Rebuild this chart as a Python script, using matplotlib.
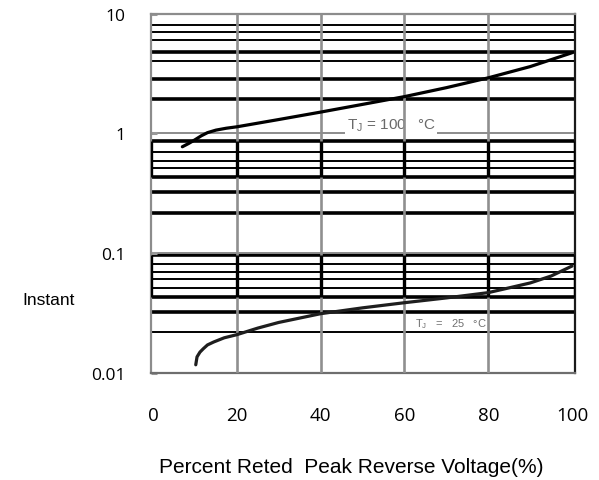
'''Reverse leakage current vs. percent rated peak reverse voltage.

Log-scale chart with two junction temperature curves (100 C and 25 C) drawn
over a hand-ruled looking grid.
'''

# ----------------------------------------------------------------------------
# Modules
from matplotlib import pyplot as plt
from matplotlib import ticker

# ----------------------------------------------------------------------------
# Data

# Tj = 100 C curve
tj100_x = [7, 8.5, 10, 11.5, 13, 15, 17.5, 20, 30, 40, 50, 60, 70, 80, 90,
           100]
tj100_y = [0.77, 0.82, 0.88, 0.95, 1.01, 1.06, 1.1, 1.13, 1.3, 1.5, 1.74,
           2.02, 2.4, 2.9, 3.6, 4.7]

# Tj = 25 C curve
tj25_x = [10.2, 10.5, 11.2, 12, 13, 14.5, 17, 20, 25, 30, 40, 50, 60, 70,
          80, 85, 90, 95, 100]
tj25_y = [0.0116, 0.0135, 0.0148, 0.0158, 0.017, 0.018, 0.0195, 0.0207,
          0.0235, 0.0262, 0.031, 0.0347, 0.0383, 0.042, 0.0465, 0.051,
          0.056, 0.064, 0.0776]

# horizontal rules of the grid and which of them are heavy
grid_levels = [7.94, 6.98, 5.99, 4.80, 4.0, 2.86, 1.92,
               0.858, 0.695, 0.584, 0.511, 0.43, 0.323, 0.215,
               0.0962, 0.081, 0.0695, 0.0607, 0.0511, 0.043, 0.0322, 0.022]
heavy_levels = [4.80, 2.86, 1.92, 0.858, 0.43, 0.323, 0.215,
                0.0962, 0.043, 0.0322]
grey_levels = [1, 0.1]

# boxed bands (bottom, top) with black uprights
box_bands = [(0.43, 0.858), (0.043, 0.0962)]

x_ticks = [0, 20, 40, 60, 80, 100]
x_ticklabels = ['0', '20', '40', '60', '80', '100']
y_ticks = [0.01, 0.1, 1, 10]
y_ticklabels = ['0.01', '0.1', '1', '10']

# ----------------------------------------------------------------------------


def leakage_plot():
    """Draws the chart and saves it to out.png.

    :return: None.
    """

    plt.rcParams['mathtext.default'] = 'regular'

    figure = plt.figure(figsize=(5.99, 4.81), dpi=100)
    ax = figure.add_axes([150.5 / 599, 1 - 373.5 / 481,
                          (575 - 150.5) / 599, (373.5 - 14.5) / 481])
    ax.set_yscale('log')
    ax.set_ylim(0.01, 10)
    ax.set_xlim(-0.6, 100.7)
    x_lo, x_hi = ax.get_xlim()

    # horizontal rules
    for level in grid_levels:
        lw = 2.6 if level in heavy_levels else 1.4
        ax.axhline(level, color='black', linewidth=lw, zorder=1)
    for level in grey_levels:
        ax.axhline(level, color='#8c8c8c', linewidth=1.4, zorder=1)

    # vertical grey rules
    for xv in x_ticks[1:-1]:
        ax.axvline(xv, color='#8f8f8f', linewidth=1.9, zorder=3)

    # black uprights of the boxed bands
    uprights = [x_lo] + x_ticks[1:-1] + [x_hi]
    for low, high in box_bands:
        ax.vlines(uprights, low, high, color='black', linewidth=2.4,
                  zorder=4)

    # curves
    ax.plot(tj100_x, tj100_y, color='black', linewidth=2.3,
            solid_capstyle='round', zorder=5)
    ax.plot(tj25_x, tj25_y, color='#1e1e1e', linewidth=2.3,
            solid_capstyle='round', zorder=5)

    # curve labels
    ax.text(46.2, 1.0, r'T$_J$ = 100   °C', color='#6a6a6a', fontsize=11,
            family=['Liberation Sans Narrow', 'Liberation Sans'],
            ha='left', va='bottom', zorder=2,
            bbox=dict(facecolor='white', edgecolor='none', pad=1.2))
    ax.text(62.5, 0.0258, r'T$_J$   =   25   °C', color='#707070',
            fontsize=8, family=['Liberation Sans'], ha='left', va='center',
            zorder=2)

    # spines
    ax.spines['left'].set_color('#8c8c8c')
    ax.spines['top'].set_color('#8c8c8c')
    ax.spines['right'].set_color('#1a1a1a')
    ax.spines['bottom'].set_color('#6e6e6e')
    for side in ax.spines:
        ax.spines[side].set_linewidth(1.6)

    # ticks
    ax.xaxis.set_major_locator(ticker.FixedLocator(x_ticks))
    ax.xaxis.set_major_formatter(ticker.FixedFormatter(x_ticklabels))
    ax.yaxis.set_major_locator(ticker.FixedLocator(y_ticks))
    ax.yaxis.set_major_formatter(ticker.FixedFormatter(y_ticklabels))
    ax.yaxis.set_minor_locator(ticker.NullLocator())
    ax.tick_params(axis='x', length=0, pad=24, labelsize=13.5)
    ax.tick_params(axis='y', direction='in', length=4, width=2.2,
                   color='#999999', pad=18, labelsize=12.5)
    for label in ax.get_xticklabels() + ax.get_yticklabels():
        label.set_family(['Open Sans', 'DejaVu Sans'])

    # axis labels
    ax.set_xlabel('Percent Reted  Peak Reverse Voltage(%)', fontsize=15,
                  family=['Liberation Sans'], va='center')
    ax.xaxis.set_label_coords((351 - 150.5) / 424.5, (373.5 - 468) / 359)
    ax.set_ylabel('Instant', rotation=0, fontsize=12.5,
                  family=['Liberation Sans'], ha='center', va='center')
    ax.yaxis.set_label_coords((49 - 150.5) / 424.5, (373.5 - 301) / 359)

    plt.savefig('out.png', dpi=100)

    return None

# ----------------------------------------------------------------------------


def main():
    """The main function of the script.

    :return: None.
    """

    leakage_plot()

    return None

# ----------------------------------------------------------------------------


if __name__ == '__main__':
    main()
